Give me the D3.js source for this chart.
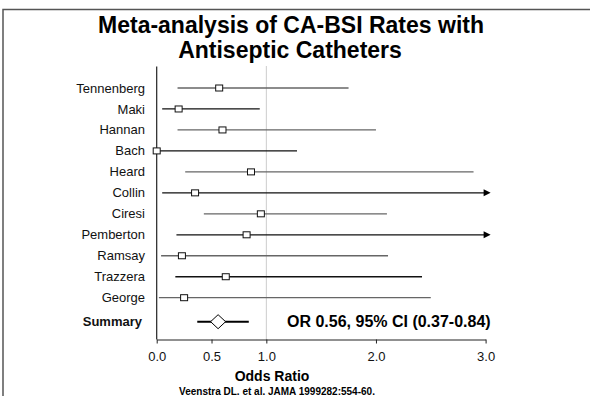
<!DOCTYPE html>
<html>
<head>
<meta charset="utf-8">
<script src="https://cdn.jsdelivr.net/npm/d3@7"></script>
<style>
  body { margin: 0; background: #fff; }
  svg { display: block; font-family: "Liberation Sans", Arial, sans-serif; }
</style>
</head>
<body>
<svg id="chart" width="590" height="396"></svg>
<script>
// study rows
var studies = ["Tennenberg", "Maki", "Hannan", "Bach", "Heard", "Collin", "Ciresi", "Pemberton", "Ramsay", "Trazzera", "George"];
var oddsRatio = [0.57, 0.20, 0.60, 0.00, 0.86, 0.35, 0.95, 0.82, 0.23, 0.63, 0.25];
var ciLower = [0.19, 0.05, 0.19, 0.00, 0.26, 0.05, 0.43, 0.18, 0.04, 0.17, 0.02];
var ciUpper = [1.75, 0.94, 2.00, 1.28, 2.89, 3.5, 2.10, 3.5, 2.11, 2.42, 2.50]; // >3 runs off the axis

// pooled estimate
var summaryLabel = "Summary";
var summaryOR = 0.56;
var summaryLower = 0.37;
var summaryUpper = 0.84;
var summaryText = "OR 0.56, 95% CI (0.37-0.84)";

var xTicks = [0, 0.5, 1, 2, 3];
var xTickLabels = ["0.0", "0.5", "1.0", "2.0", "3.0"];

var svg = d3.select("#chart");

// outer frame (runs off right and bottom)
svg.append("path")
    .attr("d", "M3,400 L3,9.5 L600,9.5")
    .attr("fill", "none")
    .attr("stroke", "#555")
    .attr("stroke-width", 1.5);

// title
var title = svg.append("text")
    .attr("text-anchor", "middle")
    .attr("font-weight", "bold")
    .attr("font-size", 23)
    .attr("fill", "#000");
title.append("tspan").attr("x", 291).attr("y", 33).text("Meta-analysis of CA-BSI Rates with");
title.append("tspan").attr("x", 290).attr("y", 58).text("Antiseptic Catheters");

var x = d3.scaleLinear().domain([0, 3]).range([156.7, 485.6]);
var y = d3.scalePoint().domain(studies).range([88, 297.7]);
var ySummary = y("George") + 24;
var plotTop = 66.5, plotBottom = 339.5;

var rows = studies.map(function(s, i) {
  return { name: s, or: oddsRatio[i], lo: ciLower[i], hi: ciUpper[i], i: i };
});

// reference line at OR = 1
svg.append("line")
    .attr("x1", x(1)).attr("x2", x(1))
    .attr("y1", plotTop).attr("y2", plotBottom)
    .attr("stroke", "#999")
    .attr("stroke-width", 1)
    .attr("stroke-dasharray", "1,1");

// x axis
var xAxis = svg.append("g")
    .attr("transform", "translate(0," + plotBottom + ")")
    .call(d3.axisBottom(x)
      .tickValues(xTicks)
      .tickFormat(function(d, i) { return xTickLabels[i]; })
      .tickSizeInner(4)
      .tickSizeOuter(0)
      .tickPadding(8));
xAxis.select(".domain").attr("stroke", "#222");
xAxis.selectAll(".tick line").attr("stroke", "#222");
xAxis.selectAll(".tick text")
    .attr("font-size", 13)
    .attr("font-family", "Liberation Sans, Arial, sans-serif")
    .attr("fill", "#111");

// y axis line (no ticks)
svg.append("line")
    .attr("x1", x(0)).attr("x2", x(0))
    .attr("y1", plotTop).attr("y2", plotBottom)
    .attr("stroke", "#222")
    .attr("stroke-width", 1.2);

// study labels
svg.selectAll(".label")
  .data(rows)
  .enter().append("text")
    .attr("class", "label")
    .attr("x", 145)
    .attr("y", function(d) { return y(d.name); })
    .attr("dy", "0.35em")
    .attr("text-anchor", "end")
    .attr("font-size", 13)
    .attr("fill", "#111")
    .text(function(d) { return d.name; });

// confidence intervals
var ciColor = function(d) { return d.i % 2 === 0 ? "#666" : "#111"; };
svg.selectAll(".ci")
  .data(rows)
  .enter().append("line")
    .attr("class", "ci")
    .attr("x1", function(d) { return x(d.lo); })
    .attr("x2", function(d) { return x(Math.min(d.hi, 3)); })
    .attr("y1", function(d) { return y(d.name); })
    .attr("y2", function(d) { return y(d.name); })
    .attr("stroke", ciColor)
    .attr("stroke-width", 1.3);

// arrow heads for intervals past the axis
svg.selectAll(".arrow")
  .data(rows.filter(function(d) { return d.hi > 3; }))
  .enter().append("path")
    .attr("class", "arrow")
    .attr("d", function(d) {
      var x0 = x(3), yy = y(d.name);
      return "M" + (x0 - 2) + "," + (yy - 3.5) + "L" + (x0 + 5) + "," + yy + "L" + (x0 - 2) + "," + (yy + 3.5) + "Z";
    })
    .attr("fill", "#000");

// point estimates
svg.selectAll(".box")
  .data(rows)
  .enter().append("rect")
    .attr("class", "box")
    .attr("x", function(d) { return x(d.or) - 3.5; })
    .attr("y", function(d) { return y(d.name) - 3; })
    .attr("width", 7)
    .attr("height", 6)
    .attr("fill", "#fff")
    .attr("stroke", "#111")
    .attr("stroke-width", 1);

// summary row
svg.append("text")
    .attr("x", 142)
    .attr("y", ySummary)
    .attr("dy", "0.35em")
    .attr("text-anchor", "end")
    .attr("font-size", 13)
    .attr("font-weight", "bold")
    .attr("fill", "#111")
    .text(summaryLabel);

svg.append("line")
    .attr("x1", x(summaryLower)).attr("x2", x(summaryUpper))
    .attr("y1", ySummary).attr("y2", ySummary)
    .attr("stroke", "#000")
    .attr("stroke-width", 2);

var cx = x(summaryOR);
svg.append("path")
    .attr("d", "M" + (cx - 7.5) + "," + ySummary + "L" + cx + "," + (ySummary - 7) +
               "L" + (cx + 7.5) + "," + ySummary + "L" + cx + "," + (ySummary + 7) + "Z")
    .attr("fill", "#fff")
    .attr("stroke", "#000")
    .attr("stroke-width", 1);

svg.append("text")
    .attr("x", 287)
    .attr("y", ySummary)
    .attr("dy", "0.35em")
    .attr("font-size", 16)
    .attr("font-weight", "bold")
    .attr("fill", "#000")
    .text(summaryText);

// axis title and source
svg.append("text")
    .attr("x", 272)
    .attr("y", 380.5)
    .attr("text-anchor", "middle")
    .attr("font-size", 14)
    .attr("font-weight", "bold")
    .attr("fill", "#000")
    .text("Odds Ratio");

svg.append("text")
    .attr("x", 277)
    .attr("y", 394.5)
    .attr("text-anchor", "middle")
    .attr("font-size", 10)
    .attr("font-weight", "bold")
    .attr("fill", "#000")
    .text("Veenstra DL. et al. JAMA 1999282:554-60.");
</script>
</body>
</html>
